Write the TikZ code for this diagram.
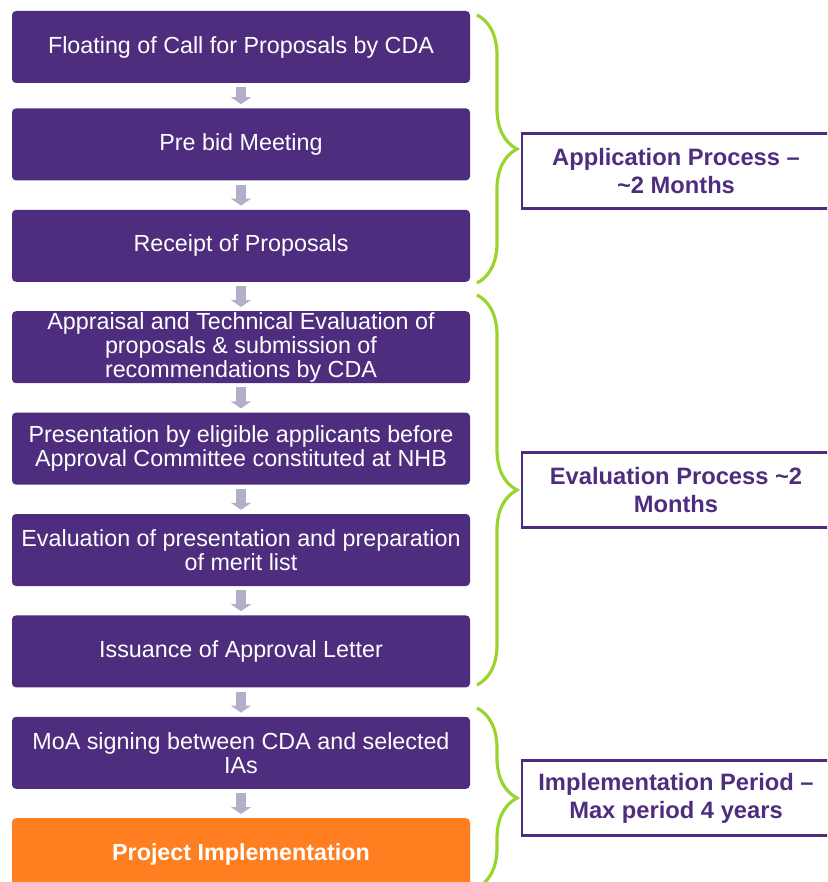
\documentclass[tikz,border=0pt]{standalone}
\usepackage{fontspec}
\setmainfont{Liberation Sans}
\usetikzlibrary{positioning,arrows.meta,decorations.pathreplacing}

\definecolor{stagepurple}{RGB}{79,45,126}
\definecolor{stageorange}{RGB}{255,127,32}
\definecolor{bracegreen}{RGB}{154,212,46}
\definecolor{arrowgray}{RGB}{178,176,200}

\begin{document}
\begin{tikzpicture}[x=1pt,y=-1pt,
	stage/.style={fill=stagepurple,text=white,rounded corners=4pt,minimum width=458pt,minimum height=72pt,
		inner sep=0pt,align=center,font=\fontsize{23.3}{24}\selectfont},
	laststage/.style={stage,fill=stageorange,font=\fontsize{23.3}{24}\selectfont\bfseries},
	flow/.style={draw=arrowgray,line width=10pt,shorten <=0pt,shorten >=4pt,
		-{Triangle[width=20pt,length=7pt]}},
	phasebrace/.style={draw=bracegreen,line width=3.2pt,decorate,decoration={brace,amplitude=40pt}},
	phase/.style={draw=stagepurple,line width=2.6pt,text=stagepurple,minimum width=308pt,minimum height=75pt,
		inner sep=0pt,align=center,font=\fontsize{23.7}{28}\selectfont\bfseries}]
	\useasboundingbox (0,0) rectangle (827,882);
	\clip (0,0) rectangle (827,882);
	\node[stage] (call) at (241,47) {Floating of Call for Proposals by CDA};
	\node[stage,below=25pt of call] (prebid) {Pre bid Meeting};
	\node[stage,below=29pt of prebid] (receipt) {Receipt of Proposals};
	\node[stage,below=29pt of receipt] (appraisal) {Appraisal and Technical Evaluation of\\proposals \& submission of\\recommendations by CDA};
	\node[stage,below=29pt of appraisal] (presentation) {Presentation by eligible applicants before\\Approval Committee constituted at NHB};
	\node[stage,below=29pt of presentation] (merit) {Evaluation of presentation and preparation\\of merit list};
	\node[stage,below=29pt of merit] (letter) {Issuance of Approval Letter};
	\node[stage,below=29pt of letter] (moa) {MoA signing between CDA and selected\\IAs};
	\node[laststage,below=29pt of moa] (implement) {Project Implementation};
	\foreach \a/\b in {call/prebid,prebid/receipt,receipt/appraisal,appraisal/presentation,
		presentation/merit,merit/letter,letter/moa,moa/implement}
		\draw[flow] ([yshift=-4pt]\a.south) -- (\b.north);
	\draw[phasebrace] (477,15) -- (477,283);
	\draw[phasebrace] (477,295) -- (477,685);
	\draw[phasebrace] (477,708) -- (477,888);
	\node[phase] (application) at (676,171) {Application Process --\\\textasciitilde2 Months};
	\node[phase] (evaluation) at (676,490) {Evaluation Process \textasciitilde2\\Months};
	\node[phase] (implementation) at (676,798) {Implementation Period --\\Max period 4 years};
\end{tikzpicture}
\end{document}
